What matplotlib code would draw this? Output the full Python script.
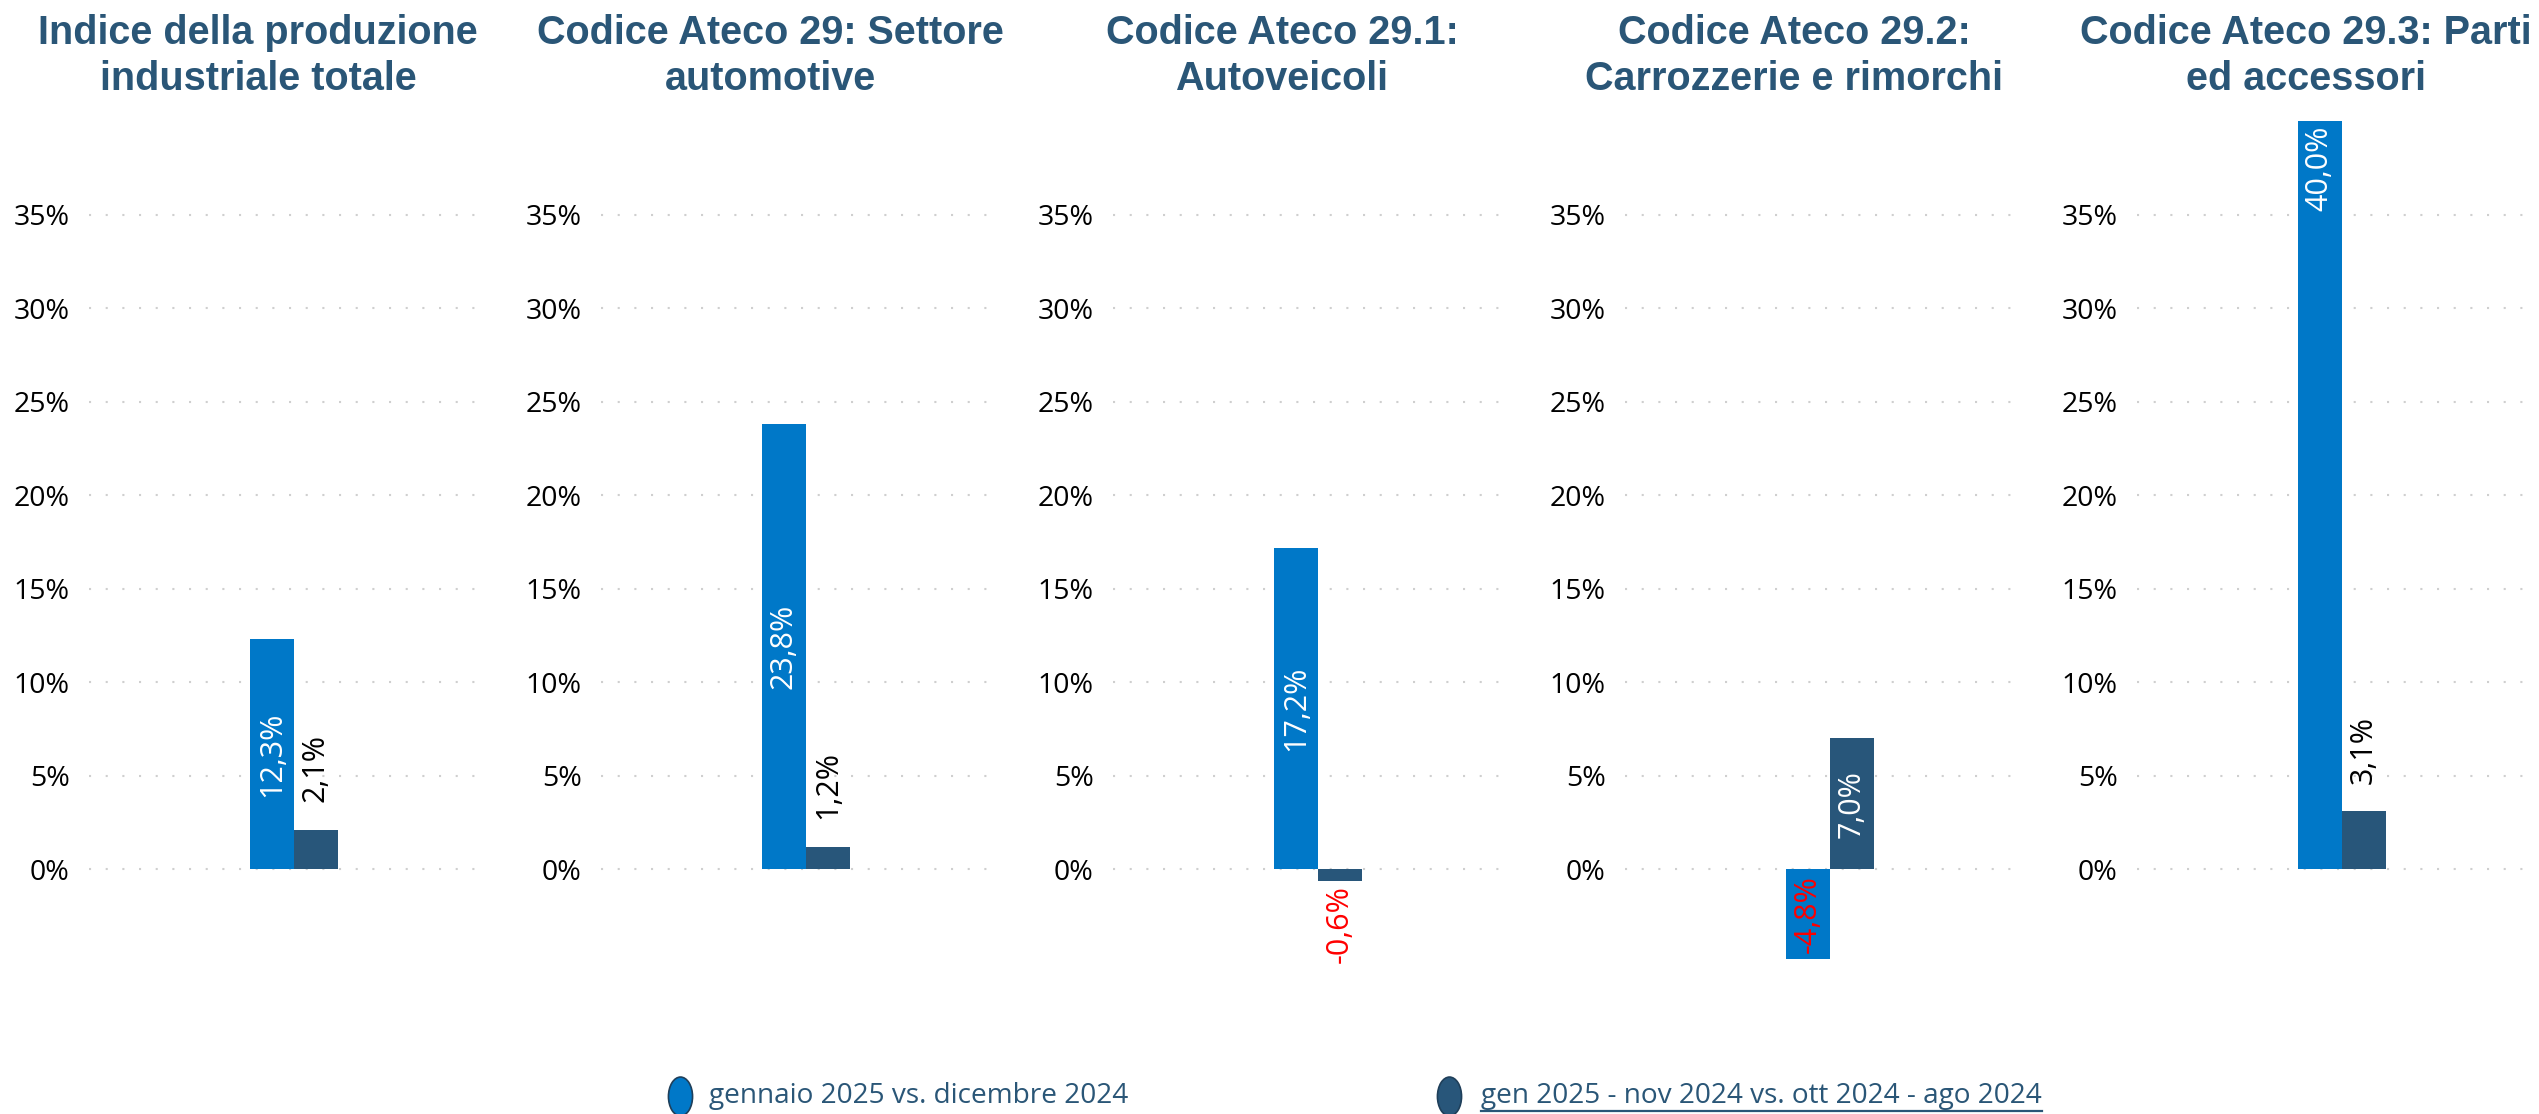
import numpy as np
import matplotlib.pyplot as plt
from matplotlib.lines import Line2D
from matplotlib.path import Path
from matplotlib.transforms import Affine2D

titles = [
    "Indice della produzione\nindustriale totale",
    "Codice Ateco 29: Settore\nautomotive",
    "Codice Ateco 29.1:\nAutoveicoli",
    "Codice Ateco 29.2:\nCarrozzerie e rimorchi",
    "Codice Ateco 29.3: Parti\ned accessori",
]
monthly = [12.3, 23.8, 17.2, -4.8, 40.0]     # gennaio 2025 vs. dicembre 2024
quarterly = [2.1, 1.2, -0.6, 7.0, 3.1]       # gen 2025 - nov 2024 vs. ott 2024 - ago 2024
series_names = ["gennaio 2025 vs. dicembre 2024",
                "gen 2025 - nov 2024 vs. ott 2024 - ago 2024"]
yticks = [0, 5, 10, 15, 20, 25, 30, 35]

BLUE = "#0078C8"
DARK = "#28567A"
TITLE_C = "#2A5677"

W, H = 2539, 1114
fig = plt.figure(figsize=(W / 100, H / 100), dpi=100)

ax_left = 89 / W
ax_step = 512 / W
ax_w = 400 / W
ax_bottom = 0.0853
ax_top = 0.8914
bw = 0.11
x0 = 0.012


def label(ax, x, v):
    s = f"{v:.1f}%".replace(".", ",")
    if abs(v) < 4:
        # small values: label outside the bar
        col = "red" if v < 0 else "black"
        va = "top" if v < 0 else "bottom"
        off = -3 if v < 0 else 20
        ax.annotate(s, (x, v), xytext=(0, off), textcoords="offset points",
                    rotation=90, ha="center", va=va, color=col,
                    fontsize=22, family="Open Sans")
    else:
        col = "red" if v < 0 else "white"
        if v > 30:
            ax.annotate(s, (x, v), xytext=(0, -3), textcoords="offset points",
                        rotation=90, ha="center", va="top", color=col,
                        fontsize=22, family="Open Sans")
        else:
            ax.text(x, v / 2, s, rotation=90, ha="center", va="center",
                    color=col, fontsize=22, family="Open Sans")


for i in range(5):
    ax = fig.add_axes([ax_left + i * ax_step, ax_bottom, ax_w, ax_top - ax_bottom])
    ax.bar(x0 - bw / 2, monthly[i], width=bw, color=BLUE)
    ax.bar(x0 + bw / 2, quarterly[i], width=bw, color=DARK)
    label(ax, x0 - bw / 2, monthly[i])
    label(ax, x0 + bw / 2, quarterly[i])
    ax.set_xlim(-0.5, 0.5)
    ax.set_ylim(-8, 40)
    ax.set_yticks(yticks)
    ax.set_yticklabels([f"{t}%" for t in yticks], fontsize=20.5, family="Open Sans")
    ax.tick_params(axis="y", length=0, pad=14)
    ax.set_xticks([])
    for sp in ax.spines.values():
        sp.set_visible(False)
    ax.grid(axis="y", color="#cfcfcf", linewidth=1.5, linestyle=(0, (1, 7)))
    ax.set_axisbelow(True)
    cx = ax_left + i * ax_step + ax_w / 2 - 31 / W
    fig.text(cx, 1 - 56 / H, titles[i], ha="center", va="center", fontsize=28.5,
             fontweight="bold", family="Liberation Sans", color=TITLE_C,
             linespacing=1.28)

# legend
oval = Path.unit_circle().transformed(Affine2D().scale(0.62, 1.0))
leg_y = 1 - 1096 / H
for mx, tx, col, name, ul in [(680, 709, BLUE, series_names[0], False),
                               (1449, 1481, DARK, series_names[1], True)]:
    fig.add_artist(Line2D([mx / W], [leg_y], marker=oval, markersize=28,
                          markerfacecolor=col, markeredgecolor="#1f3f5a",
                          markeredgewidth=1.2, linestyle="none",
                          transform=fig.transFigure))
    t = fig.text(tx / W, leg_y, name, ha="left", va="center", fontsize=20.2,
                 family="Open Sans", color=TITLE_C)
    if ul:
        fig.canvas.draw()
        bb = t.get_window_extent()
        fig.add_artist(Line2D([bb.x0 / W, bb.x1 / W], [bb.y0 / H - 1 / H] * 2,
                              color=TITLE_C, linewidth=1.6,
                              transform=fig.transFigure))

fig.savefig("out.png", dpi=100)
